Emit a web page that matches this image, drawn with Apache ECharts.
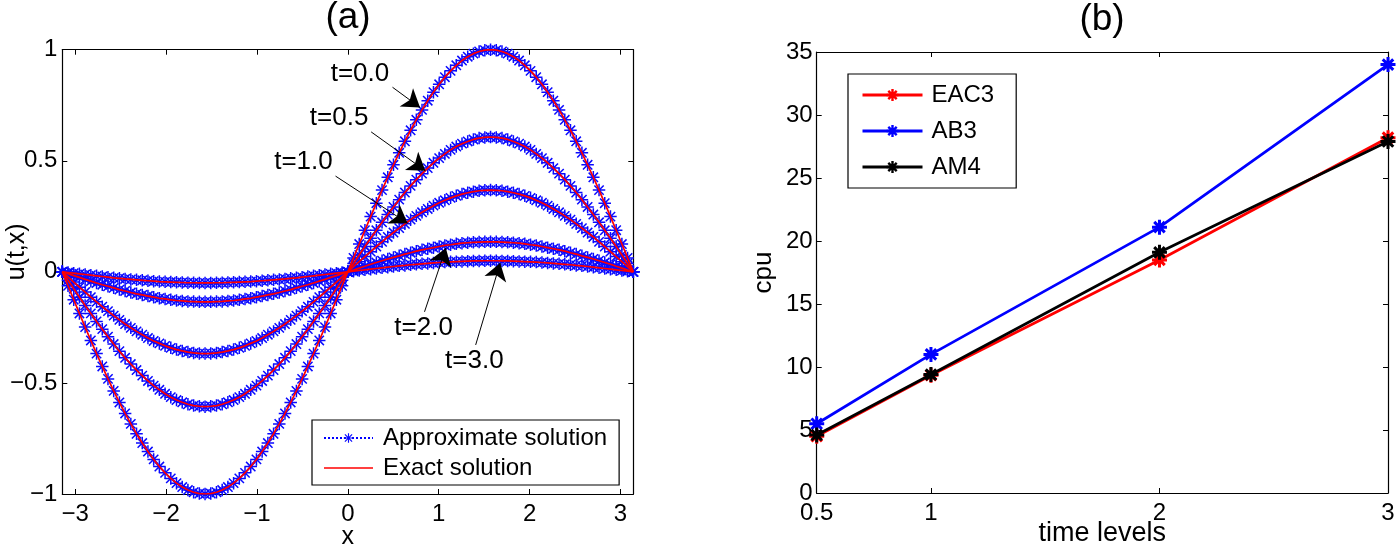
<!DOCTYPE html>
<html><head><meta charset="utf-8">
<script src="https://cdn.jsdelivr.net/npm/echarts@6/dist/echarts.min.js"></script>
<style>html,body{margin:0;padding:0;background:#fff}#c{width:1396px;height:547px}</style>
</head><body><div id="c"></div><script>
// ---------- Panel (a) data ----------
const xs = [-3.1416, -3.0788, -3.0159, -2.9531, -2.8903, -2.8274, -2.7646, -2.7018, -2.6389, -2.5761, -2.5133, -2.4504, -2.3876, -2.3248, -2.2619, -2.1991, -2.1363, -2.0735, -2.0106, -1.9478, -1.8850, -1.8221, -1.7593, -1.6965, -1.6336, -1.5708, -1.5080, -1.4451, -1.3823, -1.3195, -1.2566, -1.1938, -1.1310, -1.0681, -1.0053, -0.9425, -0.8796, -0.8168, -0.7540, -0.6912, -0.6283, -0.5655, -0.5027, -0.4398, -0.3770, -0.3142, -0.2513, -0.1885, -0.1257, -0.0628, 0, 0.0628, 0.1257, 0.1885, 0.2513, 0.3142, 0.3770, 0.4398, 0.5027, 0.5655, 0.6283, 0.6912, 0.7540, 0.8168, 0.8796, 0.9425, 1.0053, 1.0681, 1.1310, 1.1938, 1.2566, 1.3195, 1.3823, 1.4451, 1.5080, 1.5708, 1.6336, 1.6965, 1.7593, 1.8221, 1.8850, 1.9478, 2.0106, 2.0735, 2.1363, 2.1991, 2.2619, 2.3248, 2.3876, 2.4504, 2.5133, 2.5761, 2.6389, 2.7018, 2.7646, 2.8274, 2.8903, 2.9531, 3.0159, 3.0788, 3.1416];
const u_t00 = [0, -0.0628, -0.1253, -0.1874, -0.2487, -0.3090, -0.3681, -0.4258, -0.4818, -0.5358, -0.5878, -0.6374, -0.6845, -0.7290, -0.7705, -0.8090, -0.8443, -0.8763, -0.9048, -0.9298, -0.9511, -0.9686, -0.9823, -0.9921, -0.9980, -1.0000, -0.9980, -0.9921, -0.9823, -0.9686, -0.9511, -0.9298, -0.9048, -0.8763, -0.8443, -0.8090, -0.7705, -0.7290, -0.6845, -0.6374, -0.5878, -0.5358, -0.4818, -0.4258, -0.3681, -0.3090, -0.2487, -0.1874, -0.1253, -0.0628, 0,
  0.0628, 0.1253, 0.1874, 0.2487, 0.3090, 0.3681, 0.4258, 0.4818, 0.5358, 0.5878, 0.6374, 0.6845, 0.7290, 0.7705, 0.8090, 0.8443, 0.8763, 0.9048, 0.9298, 0.9511, 0.9686, 0.9823, 0.9921, 0.9980, 1.0000, 0.9980, 0.9921, 0.9823, 0.9686, 0.9511, 0.9298, 0.9048, 0.8763, 0.8443, 0.8090, 0.7705, 0.7290, 0.6845, 0.6374, 0.5878, 0.5358, 0.4818, 0.4258, 0.3681, 0.3090, 0.2487, 0.1874, 0.1253, 0.0628, 0];
const u_t05 = [0, -0.038, -0.076, -0.114, -0.151, -0.187, -0.223, -0.258, -0.292, -0.325, -0.357, -0.387, -0.415, -0.442, -0.467, -0.491, -0.512, -0.531, -0.549, -0.564, -0.577, -0.587, -0.596, -0.602, -0.605, -0.607, -0.605, -0.602, -0.596, -0.587, -0.577, -0.564, -0.549, -0.531, -0.512, -0.491, -0.467, -0.442, -0.415, -0.387, -0.357, -0.325, -0.292, -0.258, -0.223, -0.187, -0.151, -0.114, -0.076, -0.038, 0,
  0.038, 0.076, 0.114, 0.151, 0.187, 0.223, 0.258, 0.292, 0.325, 0.357, 0.387, 0.415, 0.442, 0.467, 0.491, 0.512, 0.531, 0.549, 0.564, 0.577, 0.587, 0.596, 0.602, 0.605, 0.607, 0.605, 0.602, 0.596, 0.587, 0.577, 0.564, 0.549, 0.531, 0.512, 0.491, 0.467, 0.442, 0.415, 0.387, 0.357, 0.325, 0.292, 0.258, 0.223, 0.187, 0.151, 0.114, 0.076, 0.038, 0];
const u_t10 = [0, -0.023, -0.046, -0.069, -0.091, -0.114, -0.135, -0.157, -0.177, -0.197, -0.216, -0.235, -0.252, -0.268, -0.283, -0.298, -0.311, -0.322, -0.333, -0.342, -0.350, -0.356, -0.361, -0.365, -0.367, -0.368, -0.367, -0.365, -0.361, -0.356, -0.350, -0.342, -0.333, -0.322, -0.311, -0.298, -0.283, -0.268, -0.252, -0.235, -0.216, -0.197, -0.177, -0.157, -0.135, -0.114, -0.091, -0.069, -0.046, -0.023, 0,
  0.023, 0.046, 0.069, 0.091, 0.114, 0.135, 0.157, 0.177, 0.197, 0.216, 0.235, 0.252, 0.268, 0.283, 0.298, 0.311, 0.322, 0.333, 0.342, 0.350, 0.356, 0.361, 0.365, 0.367, 0.368, 0.367, 0.365, 0.361, 0.356, 0.350, 0.342, 0.333, 0.322, 0.311, 0.298, 0.283, 0.268, 0.252, 0.235, 0.216, 0.197, 0.177, 0.157, 0.135, 0.114, 0.091, 0.069, 0.046, 0.023, 0];
const u_t20 = [0, -0.008, -0.017, -0.025, -0.034, -0.042, -0.050, -0.058, -0.065, -0.072, -0.080, -0.086, -0.093, -0.099, -0.104, -0.109, -0.114, -0.119, -0.122, -0.126, -0.129, -0.131, -0.133, -0.134, -0.135, -0.135, -0.135, -0.134, -0.133, -0.131, -0.129, -0.126, -0.122, -0.119, -0.114, -0.109, -0.104, -0.099, -0.093, -0.086, -0.080, -0.072, -0.065, -0.058, -0.050, -0.042, -0.034, -0.025, -0.017, -0.008, 0,
  0.008, 0.017, 0.025, 0.034, 0.042, 0.050, 0.058, 0.065, 0.072, 0.080, 0.086, 0.093, 0.099, 0.104, 0.109, 0.114, 0.119, 0.122, 0.126, 0.129, 0.131, 0.133, 0.134, 0.135, 0.135, 0.135, 0.134, 0.133, 0.131, 0.129, 0.126, 0.122, 0.119, 0.114, 0.109, 0.104, 0.099, 0.093, 0.086, 0.080, 0.072, 0.065, 0.058, 0.050, 0.042, 0.034, 0.025, 0.017, 0.008, 0];
const u_t30 = [0, -0.003, -0.006, -0.009, -0.012, -0.015, -0.018, -0.021, -0.024, -0.027, -0.029, -0.032, -0.034, -0.036, -0.038, -0.040, -0.042, -0.044, -0.045, -0.046, -0.047, -0.048, -0.049, -0.049, -0.050, -0.050, -0.050, -0.049, -0.049, -0.048, -0.047, -0.046, -0.045, -0.044, -0.042, -0.040, -0.038, -0.036, -0.034, -0.032, -0.029, -0.027, -0.024, -0.021, -0.018, -0.015, -0.012, -0.009, -0.006, -0.003, 0,
  0.003, 0.006, 0.009, 0.012, 0.015, 0.018, 0.021, 0.024, 0.027, 0.029, 0.032, 0.034, 0.036, 0.038, 0.040, 0.042, 0.044, 0.045, 0.046, 0.047, 0.048, 0.049, 0.049, 0.050, 0.050, 0.050, 0.049, 0.049, 0.048, 0.047, 0.046, 0.045, 0.044, 0.042, 0.040, 0.038, 0.036, 0.034, 0.032, 0.029, 0.027, 0.024, 0.021, 0.018, 0.015, 0.012, 0.009, 0.006, 0.003, 0];
const xTicksA = [-3, -2, -1, 0, 1, 2, 3];
// annotation labels and arrows (data coordinates)
const annLabel = ['t=0.0', 't=0.5', 't=1.0', 't=2.0', 't=3.0'];
const annTextX = [0.134, -0.096, -0.488, 0.834, 1.393];
const annTextY = [0.893, 0.693, 0.494, -0.251, -0.400];
const annFromX = [0.492, 0.257, -0.135, 0.844, 1.407];
const annFromY = [0.831, 0.630, 0.431, -0.180, -0.329];
const annToX = [0.795, 0.854, 0.658, 1.079, 1.677];
const annToY = [0.740, 0.455, 0.219, 0.107, 0.040];

// ---------- Panel (b) data ----------
const timeLevels = [0.5, 1, 2, 3];
const xTicksB = [0.5, 1, 2, 3];
const cpuEAC3 = [4.5, 9.35, 18.5, 28.2];
const cpuAB3 = [5.5, 11.0, 21.1, 34.0];
const cpuAM4 = [4.6, 9.4, 19.1, 27.9];

const FONT = "'Liberation Sans', Arial, Helvetica, sans-serif";
const STAR_MED = 'path://M0 4.4H10V5.6H0Z M4.4 0H5.6V10H4.4Z M0.84 1.7L1.7 0.84L9.16 8.3L8.3 9.16Z M8.3 0.84L9.16 1.7L1.7 9.16L0.84 8.3Z';
const STAR_THICK = 'path://M0 4H10V6H0Z M4 0H6V10H4Z M0.79 2.21L2.21 0.79L9.21 7.79L7.79 9.21Z M7.79 0.79L9.21 2.21L2.21 9.21L0.79 7.79Z';
const LINE_ICON = 'path://M0 0H60V2H0Z';
const minus = v => String(v).replace('-', '\u2212');
const pairs = (xv, yv) => xv.map((x, i) => [x, yv[i]]);

function axisBase(extra) {
  return Object.assign({
    type: 'value',
    nameMoveOverlap: false,
    axisLine: { show: true, onZero: false, lineStyle: { color: '#000', width: 1.2 } },
    splitLine: { show: false },
    nameTextStyle: { color: '#000', fontSize: 25, fontFamily: FONT },
  }, extra);
}
const tickStyle = (vals) => ({ show: true, inside: true, length: 5, customValues: vals, lineStyle: { color: '#000', width: 1 } });
const labStyle = (vals, margin) => ({ show: true, customValues: vals, formatter: minus, color: '#000', fontSize: 24, fontFamily: FONT, margin: margin });
const noLab = { show: false };
const yTick = { show: true, inside: true, length: 5, lineStyle: { color: '#000' } };

const curvesA = [u_t00, u_t05, u_t10, u_t20, u_t30];
const series = [];
curvesA.forEach((c) => {
  series.push({
    type: 'line', name: 'Approximate solution', xAxisIndex: 0, yAxisIndex: 0,
    data: pairs(xs, c), symbol: STAR_MED, symbolSize: 12.5, showSymbol: true, clip: false,
    itemStyle: { color: '#0a0aff' }, lineStyle: { color: '#0000ff', width: 1, type: 'dotted' }, z: 2
  });
});
curvesA.forEach((c, k) => {
  const s = {
    type: 'line', name: 'Exact solution', xAxisIndex: 0, yAxisIndex: 0,
    data: pairs(xs, c), symbol: 'none', itemStyle: { color: '#ff0000' },
    lineStyle: { color: '#ff0000', width: 1.7 }, z: 3
  };
  if (k === 0) {
    s.markLine = {
      silent: true, symbol: ['none', 'arrow'], symbolSize: 17, animation: false,
      lineStyle: { color: '#000', width: 1, type: 'solid' }, itemStyle: { color: '#000' },
      label: { show: false },
      data: annLabel.map((_, i) => [{ coord: [annFromX[i], annFromY[i]] }, { coord: [annToX[i], annToY[i]] }])
    };
    s.markPoint = {
      silent: true, symbol: 'circle', symbolSize: 1, itemStyle: { color: 'rgba(0,0,0,0)' }, animation: false,
      label: { show: true, position: 'inside', color: '#000', fontSize: 26, fontFamily: FONT, formatter: p => p.name },
      data: annLabel.map((t, i) => ({ name: t, coord: [annTextX[i], annTextY[i]] }))
    };
  }
  series.push(s);
});
const bSeries = [['EAC3', cpuEAC3, '#ff0000'], ['AB3', cpuAB3, '#0000ff'], ['AM4', cpuAM4, '#000000']];
bSeries.forEach(([n, d, col], k) => {
  series.push({
    type: 'line', name: n, xAxisIndex: 2, yAxisIndex: 2, data: pairs(timeLevels, d),
    symbol: STAR_THICK, symbolSize: 15, clip: false,
    itemStyle: { color: col }, lineStyle: { color: col, width: 2.8 }, z: 5 + k
  });
});

const option = {
  animation: false,
  backgroundColor: '#fff',
  textStyle: { fontFamily: FONT },
  title: [
    { text: '(a)', left: 348, top: -1, textAlign: 'center', padding: 0, textStyle: { fontSize: 37, fontWeight: 'normal', color: '#000', fontFamily: FONT } },
    { text: '(b)', left: 1102, top: 1, textAlign: 'center', padding: 0, textStyle: { fontSize: 37, fontWeight: 'normal', color: '#000', fontFamily: FONT } }
  ],
  grid: [
    { left: 62.3, top: 49.7, width: 571, height: 444.3, containLabel: false, outerBoundsMode: 'none' },
    { left: 816.7, top: 52, width: 571.3, height: 441, containLabel: false, outerBoundsMode: 'none' }
  ],
  legend: [
    {
      orient: 'vertical', left: 312, top: 420,
      data: ['Approximate solution', { name: 'Exact solution', icon: LINE_ICON }],
      borderColor: '#000', borderWidth: 1.2, backgroundColor: '#fff', padding: [6, 12, 5, 11],
      itemWidth: 49, itemHeight: 12, itemGap: 6,
      textStyle: { fontSize: 24, color: '#000', fontFamily: FONT, padding: [0, 0, 0, 5] }
    },
    {
      orient: 'vertical', left: 848, top: 74, data: ['EAC3', 'AB3', 'AM4'],
      borderColor: '#000', borderWidth: 1.2, backgroundColor: '#fff', padding: [9, 22, 9, 13],
      itemWidth: 60, itemHeight: 15, itemGap: 12,
      lineStyle: { width: 3 },
      textStyle: { fontSize: 24, color: '#000', fontFamily: FONT, padding: [0, 0, 0, 4] }
    }
  ],
  xAxis: [
    axisBase({ gridIndex: 0, position: 'bottom', min: -3.1416, max: 3.1416, axisTick: tickStyle(xTicksA), axisLabel: labStyle(xTicksA, 8),
      name: 'x', nameLocation: 'middle', nameGap: 31 }),
    axisBase({ gridIndex: 0, position: 'top', min: -3.1416, max: 3.1416, axisTick: tickStyle(xTicksA), axisLabel: noLab }),
    axisBase({ gridIndex: 1, position: 'bottom', min: 0.5, max: 3, axisTick: tickStyle(xTicksB), axisLabel: labStyle(xTicksB, 8),
      name: 'time levels', nameLocation: 'middle', nameGap: 27, nameTextStyle: { color: '#000', fontSize: 27, fontFamily: FONT } }),
    axisBase({ gridIndex: 1, position: 'top', min: 0.5, max: 3, axisTick: tickStyle(xTicksB), axisLabel: noLab })
  ],
  yAxis: [
    axisBase({ gridIndex: 0, position: 'left', min: -1, max: 1, interval: 0.5, axisTick: yTick,
      axisLabel: { formatter: minus, color: '#000', fontSize: 24, fontFamily: FONT, margin: 5 },
      name: 'u(t,x)', nameLocation: 'middle', nameGap: 33,
      nameTextStyle: { color: '#000', fontSize: 25, fontFamily: FONT, padding: [0, 0, 0, 40] } }),
    axisBase({ gridIndex: 0, position: 'right', min: -1, max: 1, interval: 0.5, axisTick: yTick, axisLabel: noLab }),
    axisBase({ gridIndex: 1, position: 'left', min: 0, max: 35, interval: 5, axisTick: yTick,
      axisLabel: { color: '#000', fontSize: 24, fontFamily: FONT, margin: 4 },
      name: 'cpu', nameLocation: 'middle', nameGap: 40, nameTextStyle: { color: '#000', fontSize: 26, fontFamily: FONT } }),
    axisBase({ gridIndex: 1, position: 'right', min: 0, max: 35, interval: 5, axisTick: yTick, axisLabel: noLab })
  ],
  series: series
};
const chart = echarts.init(document.getElementById('c'), null, { renderer: 'canvas' });
chart.setOption(option);
</script></body></html>
